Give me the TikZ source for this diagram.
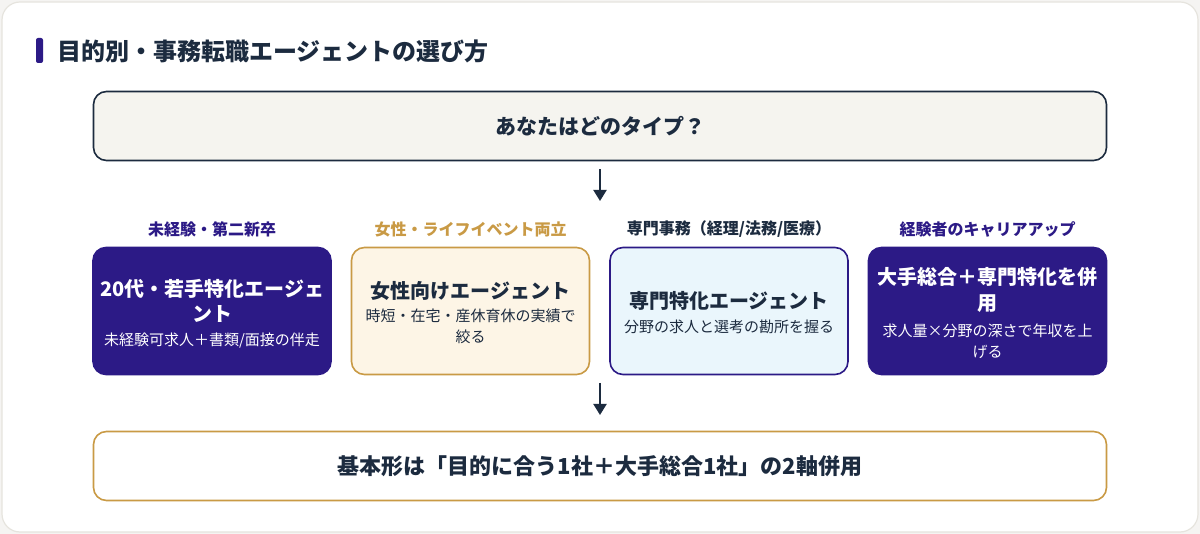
\documentclass[tikz,border=0pt]{standalone}
\usepackage{fontspec}
\setmainfont{Noto Sans CJK JP}
\newfontfamily\cjk{Noto Sans CJK JP}
\usetikzlibrary{arrows.meta}
\definecolor{ink}{HTML}{1C2B3F}
\definecolor{indigo}{HTML}{2C1A86}
\definecolor{gold}{HTML}{C99A45}
\definecolor{cream}{HTML}{FDF5E6}
\definecolor{paleblue}{HTML}{EAF6FC}
\definecolor{panel}{HTML}{F5F4EF}
\definecolor{edge}{HTML}{E6E4DE}
\tikzset{
  x=1pt, y=-1pt,
  card/.style={rounded corners=13pt, line width=1.6pt},
  wide/.style={card, minimum width=1013pt, minimum height=69pt, inner sep=0pt},
  typebox/.style={card, minimum width=238pt, minimum height=127pt, inner sep=0pt},
  tag/.style={inner sep=0pt, font=\cjk\bfseries\fontsize{16}{19}\selectfont},
  head/.style={inner sep=0pt, font=\cjk\bfseries\fontsize{20}{24}\selectfont},
  note/.style={inner sep=0pt, font=\cjk\fontsize{15}{18}\selectfont},
  flow/.style={-{Triangle[length=11pt,width=13pt]}, line width=2pt, draw=ink},
}
\begin{document}
\begin{tikzpicture}
  \useasboundingbox (0,0) rectangle (1200,534);
  % outer card
  \fill[edge!40] (0,0) rectangle (1200,534);
  \draw[edge, fill=white, line width=1.2pt, rounded corners=18pt] (2,2) rectangle (1198,532);

  % title with accent bar
  \fill[indigo, rounded corners=2pt] (36,38) rectangle (43,63);
  \node[anchor=west, text=ink, inner sep=0pt, font=\cjk\bfseries\fontsize{24}{28}\selectfont] (title) at (57,51) {目的別・事務転職エージェントの選び方};

  % question
  \node[wide, draw=ink, fill=panel, text=ink, inner sep=0pt, font=\cjk\bfseries\fontsize{21}{25}\selectfont] (q) at (600,126) {あなたはどのタイプ？};

  % type labels
  \node[tag, text=indigo] (t1) at (212,229) {未経験・第二新卒};
  \node[tag, text=gold] (t2) at (470.5,229) {女性・ライフイベント両立};
  \node[tag, text=ink] (t3) at (729,229) {専門事務（経理/法務/医療）};
  \node[tag, text=indigo] (t4) at (987.5,229) {経験者のキャリアアップ};

  % type boxes
  \node[typebox, draw=indigo, fill=indigo] (b1) at (212,311) {};
  \node[typebox, draw=gold, fill=cream] (b2) at (470.5,311) {};
  \node[typebox, draw=indigo, fill=paleblue] (b3) at (729,311) {};
  \node[typebox, draw=indigo, fill=indigo] (b4) at (987.5,311) {};

  % box texts
  \node[head, text=white] (b1h1) at (212,289) {20代・若手特化エージェ};
  \node[head, text=white] (b1h2) at (212,314) {ント};
  \node[note, text=white] (b1n1) at (212,341) {未経験可求人＋書類/面接の伴走};

  \node[head, text=ink] (b2h1) at (470.5,291) {女性向けエージェント};
  \node[note, text=ink] (b2n1) at (470.5,316) {時短・在宅・産休育休の実績で};
  \node[note, text=ink] (b2n2) at (470.5,337) {絞る};

  \node[head, text=ink] (b3h1) at (729,301) {専門特化エージェント};
  \node[note, text=ink] (b3n1) at (729,327) {分野の求人と選考の勘所を握る};

  \node[head, text=white] (b4h1) at (987.5,277) {大手総合＋専門特化を併};
  \node[head, text=white] (b4h2) at (987.5,304) {用};
  \node[note, text=white] (b4n1) at (987.5,331) {求人量×分野の深さで年収を上};
  \node[note, text=white] (b4n2) at (987.5,352) {げる};

  % conclusion
  \node[wide, draw=gold, fill=white, text=ink, inner sep=0pt, font=\cjk\bfseries\fontsize{22}{26}\selectfont] (c) at (600,466) {基本形は「目的に合う1社＋大手総合1社」の2軸併用};

  % arrows
  \coordinate (a1) at (600,201);
  \coordinate (a2) at (600,383);
  \coordinate (a3) at (600,415);
  \draw[flow] ([yshift=-8pt]q.south) -- (a1);
  \draw[flow] (a2) -- (a3);
\end{tikzpicture}
\end{document}
